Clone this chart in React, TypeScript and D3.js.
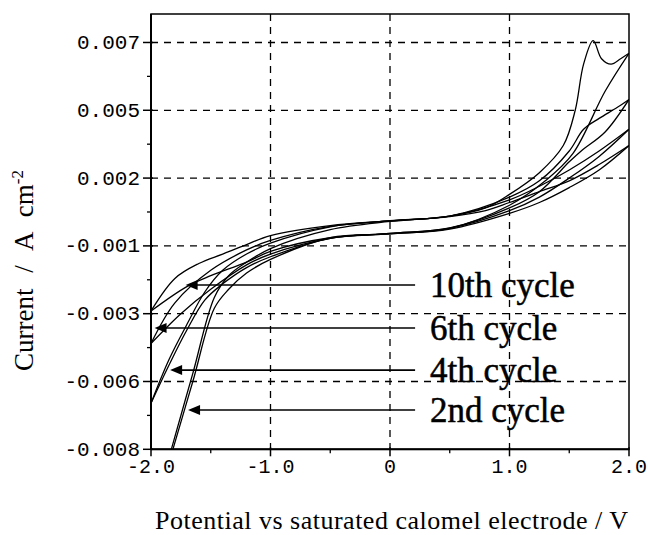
import React from "react";
import * as d3 from "d3";

// ---- Data (potential V, current A cm^-2) ----
const cycle2Fwd: [number, number][] = [
  [-2, -0.0107], [-1.83, -0.008], [-1.65, -0.0052], [-1.47, -0.0024], [-1.35, -0.0016],
  [-1.2, -0.0011], [-1, -0.0006], [-0.5, 0.0001], [0, 0.0004], [0.5, 0.0006], [0.8, 0.0009],
  [1, 0.0014], [1.25, 0.0022], [1.45, 0.0032], [1.55, 0.0045], [1.62, 0.0062], [1.7, 0.00707],
  [1.77, 0.0064], [1.85, 0.0062], [1.93, 0.0064], [2, 0.0066],
];
const cycle2Rev: [number, number][] = [
  [2, 0.0066], [1.8, 0.0052], [1.53, 0.0029], [1.3, 0.0019], [1, 0.001], [0.5, 0.00015],
  [0, -0.00006], [-0.5, -0.0002], [-1, -0.001], [-1.2, -0.0015], [-1.35, -0.0021],
  [-1.47, -0.0028], [-1.65, -0.0055], [-1.83, -0.0082], [-2, -0.0108],
];
const cycle4Fwd: [number, number][] = [
  [-2, -0.0063], [-1.85, -0.0047], [-1.7, -0.0034], [-1.55, -0.0022], [-1.4, -0.0014],
  [-1.2, -0.0008], [-1, -0.0004], [-0.5, 0.0002], [0, 0.00043], [0.5, 0.0006], [1, 0.0013],
  [1.25, 0.0019], [1.5, 0.003], [1.62, 0.0038], [1.75, 0.0042], [1.9, 0.0046], [2, 0.0049],
];
const cycle4Rev: [number, number][] = [
  [2, 0.0049], [1.8, 0.0037], [1.6, 0.003], [1.5, 0.0026], [1.25, 0.0015], [1, 0.0009],
  [0.5, 0.00016], [0, -0.00004], [-0.5, -0.00022], [-1, -0.0009], [-1.2, -0.0013],
  [-1.4, -0.0019], [-1.55, -0.0025], [-1.7, -0.0036], [-1.85, -0.0049], [-2, -0.0063],
];
const cycle6Fwd: [number, number][] = [
  [-2, -0.0041], [-1.8, -0.0026], [-1.5, -0.0014], [-1.2, -0.00065], [-1, -0.0003],
  [-0.5, 0.00022], [0, 0.00042], [0.5, 0.0006], [1, 0.0012], [1.25, 0.0017], [1.5, 0.0023],
  [1.75, 0.003], [2, 0.0038],
];
const cycle6Rev: [number, number][] = [
  [2, 0.0038], [1.75, 0.0028], [1.5, 0.002], [1.25, 0.0013], [1, 0.0008], [0.5, 0.00015],
  [0, -0.00004], [-0.5, -0.00022], [-1, -0.0008], [-1.2, -0.0012], [-1.5, -0.0021],
  [-1.75, -0.003], [-2, -0.0041],
];
const cycle10Fwd: [number, number][] = [
  [-2, -0.0029], [-1.8, -0.0017], [-1.6, -0.00115], [-1.4, -0.0008], [-1.2, -0.00045],
  [-1, -0.00012], [-0.5, 0.00025], [0, 0.00042], [0.5, 0.00058], [0.8, 0.0008], [1, 0.0011],
  [1.25, 0.0015], [1.5, 0.0019], [1.75, 0.0025], [2, 0.0032],
];
const cycle10Rev: [number, number][] = [
  [2, 0.0032], [1.75, 0.0023], [1.5, 0.00165], [1.25, 0.0011], [1, 0.0007], [0.5, 0.00012],
  [0, -0.00006], [-0.5, -0.0002], [-1, -0.0007], [-1.2, -0.0011], [-1.5, -0.0016],
  [-1.7, -0.002], [-2, -0.0029],
];
const allBranches = [cycle2Fwd, cycle2Rev, cycle4Fwd, cycle4Rev, cycle6Fwd, cycle6Rev, cycle10Fwd, cycle10Rev];

// ---- Axes ----
const xTicks = [-2, -1, 0, 1, 2];
const xTickLabels = ["-2.0", "-1.0", "0", "1.0", "2.0"];
const xMinorTicks = [-1.5, -0.5, 0.5, 1.5];
const yTicks = [-0.008, -0.0055, -0.003, -0.0005, 0.002, 0.0045, 0.007];
const yTickLabels = ["-0.008", "-0.006", "-0.003", "-0.001", "0.002", "0.005", "0.007"];
const yMinorTicks = [-0.00675, -0.00425, -0.00175, 0.00075, 0.00325, 0.00575];

// ---- Annotations ----
const annotLabels = ["10th cycle", "6th cycle", "4th cycle", "2nd cycle"];
const annotTipV = [-1.71, -1.97, -1.84, -1.69];
const annotCurrent = [-0.00194, -0.00353, -0.00508, -0.00655];
const annotLineEndV = 0.21;
const annotTextV = 0.335;

const W = 648, H = 535;
const L = 151, R = 629, T = 14, B = 449.3;

export default function App() {
  const x = d3.scaleLinear().domain([-2, 2]).range([L, R]);
  const y = d3.scaleLinear().domain([-0.008, 0.00805]).range([B, T]);
  const line = d3.line<[number, number]>()
    .x((d) => x(d[0]))
    .y((d) => y(d[1]))
    .curve(d3.curveCatmullRom.alpha(0.5));
  const mono = "'Liberation Mono', 'DejaVu Sans Mono', monospace";
  const serif = "'Liberation Serif', 'Times New Roman', serif";
  return (
    <svg width={W} height={H} style={{ position: "absolute", left: 0, top: 0, background: "#fff" }}>
      <defs>
        <clipPath id="plot">
          <rect x={L} y={T} width={R - L} height={B - T} />
        </clipPath>
      </defs>
      <rect width={W} height={H} fill="#fff" />
      {/* grid */}
      {xTicks.filter((v) => v > -2 && v < 2).map((v) => (
        <line key={"gx" + v} x1={x(v)} x2={x(v)} y1={T} y2={B} stroke="#000" strokeWidth={1.3} strokeDasharray="7,6" />
      ))}
      {yTicks.filter((v) => v > -0.008).map((v) => (
        <line key={"gy" + v} x1={L} x2={R} y1={y(v)} y2={y(v)} stroke="#000" strokeWidth={1.3} strokeDasharray="7,6" />
      ))}
      {/* curves */}
      <g clipPath="url(#plot)">
        {allBranches.map((b, i) => (
          <path key={i} d={line(b) || ""} fill="none" stroke="#000" strokeWidth={1.3} />
        ))}
      </g>
      {/* annotations */}
      {annotLabels.map((lab, i) => {
        const yy = y(annotCurrent[i]);
        const tip = x(annotTipV[i]);
        return (
          <g key={lab}>
            <line x1={tip + 8} x2={x(annotLineEndV)} y1={yy} y2={yy} stroke="#000" strokeWidth={1.6} />
            <path d={`M${tip},${yy} L${tip + 12},${yy - 5} L${tip + 12},${yy + 5} Z`} fill="#000" />
            <text x={x(annotTextV)} y={yy + 12} fontFamily={serif} fontSize={35} fill="#000" stroke="#000" strokeWidth={0.5}>{lab}</text>
          </g>
        );
      })}
      {/* frame */}
      <rect x={L} y={T} width={R - L} height={B - T} fill="none" stroke="#000" strokeWidth={1.5} />
      <line x1={L} x2={L} y1={T} y2={B} stroke="#000" strokeWidth={2} />
      <line x1={L} x2={R} y1={B} y2={B} stroke="#000" strokeWidth={2} />
      {/* x ticks */}
      {xTicks.map((v, i) => (
        <g key={"xt" + v}>
          <line x1={x(v)} x2={x(v)} y1={B - 2} y2={B + 7} stroke="#000" strokeWidth={1.5} />
          <text x={x(v)} y={473} textAnchor="middle" fontFamily={mono} fontSize={20} fill="#000">{xTickLabels[i]}</text>
        </g>
      ))}
      {xMinorTicks.map((v) => (
        <line key={"xm" + v} x1={x(v)} x2={x(v)} y1={B} y2={B + 4} stroke="#000" strokeWidth={1.3} />
      ))}
      {/* y ticks */}
      {yTicks.map((v, i) => (
        <g key={"yt" + v}>
          <line x1={L - 8} x2={L + 2} y1={y(v)} y2={y(v)} stroke="#000" strokeWidth={1.5} />
          <text x={140} y={y(v) + 6.5} textAnchor="end" fontFamily={mono} fontSize={21} fill="#000">{yTickLabels[i]}</text>
        </g>
      ))}
      {yMinorTicks.map((v) => (
        <line key={"ym" + v} x1={L - 4} x2={L} y1={y(v)} y2={y(v)} stroke="#000" strokeWidth={1.3} />
      ))}
      {/* axis titles */}
      <text x={155} y={529} fontFamily={serif} fontSize={26} textLength={473} lengthAdjust="spacing" fill="#000">
        Potential vs saturated calomel electrode / V
      </text>
      <text transform="rotate(-90)" x={-371} y={33} fontFamily={serif} fontSize={27} fill="#000"
        style={{ wordSpacing: "9px" }}>
        Current / A cm<tspan fontSize={17} dy={-10}>-2</tspan>
      </text>
    </svg>
  );
}
